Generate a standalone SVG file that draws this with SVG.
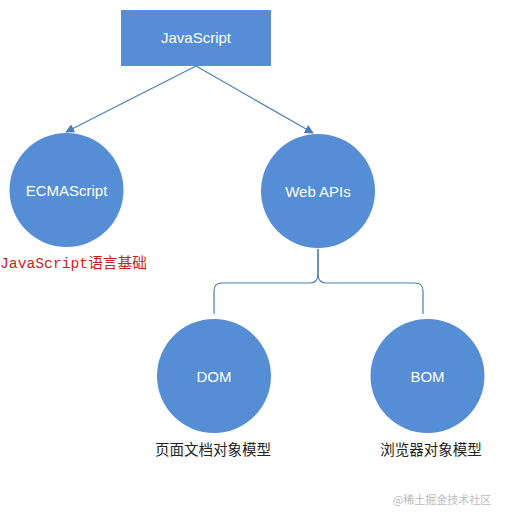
<svg xmlns="http://www.w3.org/2000/svg" width="505" height="519" viewBox="0 0 505 519">
<defs>
<marker id="arr" viewBox="0 0 10 10" refX="9" refY="5" markerWidth="9" markerHeight="9" markerUnits="userSpaceOnUse" orient="auto">
<path d="M0,0 L10,5 L0,10 z" fill="#4a7ebb"/>
</marker>
<style>
.shape{fill:#558ed5;}
.lbl{font-family:"Liberation Sans","Open Sans",sans-serif;font-size:15px;fill:#ffffff;text-anchor:middle;dominant-baseline:central;}
.cap{font-family:"Noto Sans CJK SC",sans-serif;font-size:14.5px;fill:#222;text-anchor:middle;}
.conn{stroke:#4a7ebb;stroke-width:1.2;fill:none;}
</style>
</defs>
<rect width="505" height="519" fill="#ffffff"/>
<g id="connectors">
<line class="conn" x1="196" y1="66" x2="66" y2="132" marker-end="url(#arr)"/>
<line class="conn" x1="196" y1="66" x2="313" y2="133" marker-end="url(#arr)"/>
<path class="conn" d="M318,249 L318,274 Q318,283 310,283 L222,283 Q214,283 214,291 L214,314"/>
<path class="conn" d="M318,249 L318,274 Q318,283 326,283 L415,283 Q423,283 423,291 L423,314"/>
</g>
<g id="node-javascript">
<rect class="shape" x="121" y="10" width="150" height="56"/>
<text class="lbl" x="196" y="37">JavaScript</text>
</g>
<g id="node-ecmascript">
<circle class="shape" cx="66.5" cy="190" r="57"/>
<text class="lbl" x="66.5" y="190">ECMAScript</text>
<text x="0" y="268" style="font-family:'Liberation Mono','Noto Sans CJK SC',monospace;font-size:14.7px;fill:#c81e1e;">JavaScript<tspan style="font-family:'Noto Sans CJK SC',sans-serif;">语言基础</tspan></text>
</g>
<g id="node-webapis">
<circle class="shape" cx="318" cy="191" r="57"/>
<text class="lbl" x="318" y="191">Web APIs</text>
</g>
<g id="node-dom">
<circle class="shape" cx="214" cy="376" r="57"/>
<text class="lbl" x="214" y="376">DOM</text>
<text class="cap" x="213" y="455">页面文档对象模型</text>
</g>
<g id="node-bom">
<circle class="shape" cx="427.5" cy="376" r="57"/>
<text class="lbl" x="427.5" y="376">BOM</text>
<text class="cap" x="431" y="455">浏览器对象模型</text>
</g>
<text x="442" y="504" style="font-family:'Noto Sans CJK SC',sans-serif;font-size:11px;fill:#bbbbbb;text-anchor:middle;">@稀土掘金技术社区</text>
</svg>
